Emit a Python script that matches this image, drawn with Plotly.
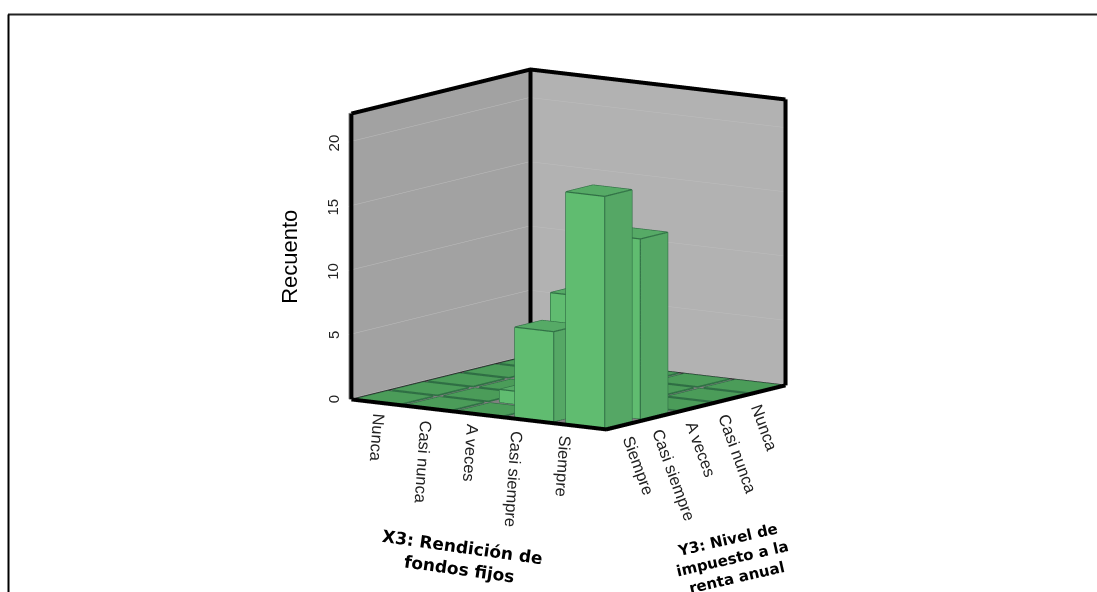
import plotly.graph_objects as go

# ---------- data ----------
x3_categories = ["Nunca", "Casi nunca", "A veces", "Casi siempre", "Siempre"]
y3_categories = ["Siempre", "Casi siempre", "A veces", "Casi nunca", "Nunca"]
# counts for each X3 category, listed in y3_categories order
counts_x3_nunca = [0, 0, 0, 0, 0]
counts_x3_casi_nunca = [0, 0, 0, 0, 0]
counts_x3_a_veces = [0, 1, 0, 0, 0]
counts_x3_casi_siempre = [7, 9, 0, 0, 0]
counts_x3_siempre = [18, 14, 0, 0, 0]
z_ticks = [0, 5, 10, 15, 20]
x3_title = "X3: Rendición de<br>fondos fijos"
y3_title = "Y3: Nivel de<br>impuesto a la<br>renta anual"
z_title = "Recuento"

counts = [counts_x3_nunca, counts_x3_casi_nunca, counts_x3_a_veces,
          counts_x3_casi_siempre, counts_x3_siempre]

# ---------- style ----------
Z_MAX = 22.25
BAR_GAP = 0.12
TILE_GAP = 0.06
TILE = 0.04
WALL_PAD = 0.06
C_FRONT, C_SIDE, C_TOP, C_TILE, C_EDGE = "#60bc70", "#55a765", "#56aa66", "#4b9c59", "#2f6e44"
nx, ny = len(x3_categories), len(y3_categories)

vx, vy, vz, fi, fj, fk, fc = [], [], [], [], [], [], []
ex, ey, ez = [], [], []


def add_bar(ix, iy, value):
    gap = BAR_GAP if value else TILE_GAP
    x0, x1 = ix + gap, ix + 1 - gap
    y0, y1 = iy + gap, iy + 1 - gap
    top = max(value, TILE)
    b = len(vx)
    for zz in (0, top):
        for xx, yy in ((x0, y0), (x1, y0), (x1, y1), (x0, y1)):
            vx.append(xx); vy.append(yy); vz.append(zz)
    tcol = C_TOP if value > 0 else C_TILE
    quads = [((4, 5, 6, 7), tcol), ((0, 1, 5, 4), C_FRONT if value else C_TILE),
             ((1, 2, 6, 5), C_SIDE if value else C_TILE), ((2, 3, 7, 6), C_SIDE), ((3, 0, 4, 7), C_SIDE)]
    for (p, q, r, s), col in quads:
        fi.extend([b + p, b + p]); fj.extend([b + q, b + r]); fk.extend([b + r, b + s]); fc.extend([col, col])
    for a, c in ((0, 1), (1, 2), (2, 3), (3, 0), (4, 5), (5, 6), (6, 7), (7, 4), (0, 4), (1, 5), (2, 6), (3, 7)):
        ex.extend([vx[b + a], vx[b + c], None]); ey.extend([vy[b + a], vy[b + c], None]); ez.extend([vz[b + a], vz[b + c], None])


for ix, row in enumerate(counts):
    for iy, v in enumerate(row):
        add_bar(ix, iy, v)

bars = go.Mesh3d(x=vx, y=vy, z=vz, i=fi, j=fj, k=fk, facecolor=fc, flatshading=True,
                 lighting=dict(ambient=1, diffuse=0, specular=0, roughness=1, fresnel=0),
                 hoverinfo="skip", showscale=False)
edges = go.Scatter3d(x=ex, y=ey, z=ez, mode="lines", line=dict(color=C_EDGE, width=2.5), hoverinfo="skip")


def polyline(points):
    xs, ys, zs = [], [], []
    for seg in points:
        for p in seg:
            xs.append(p[0]); ys.append(p[1]); zs.append(p[2])
        xs.append(None); ys.append(None); zs.append(None)
    return xs, ys, zs


L0, B0, R0, F0 = (0, 0, 0), (0, ny, 0), (nx, ny, 0), (nx, 0, 0)
L1, B1, R1 = (0, 0, Z_MAX), (0, ny, Z_MAX), (nx, ny, Z_MAX)
fx, fy, fz = polyline([[L1, B1, R1], [L0, L1], [B0, B1], [R0, R1], [L0, F0, R0]])
frame = go.Scatter3d(x=fx, y=fy, z=fz, mode="lines", line=dict(color="black", width=8), hoverinfo="skip")
tx, ty, tz = polyline([[L0, B0, R0]])
thin = go.Scatter3d(x=tx, y=ty, z=tz, mode="lines", line=dict(color="#2a2a2a", width=3), hoverinfo="skip")

tick_font = dict(family="Liberation Sans", size=16.5, color="#222222")
annotations = []
x3_dx = [1, -5, -8, -16, -18]
x3_dy = [-9, -10, -7, -8, -7]
for k, name in enumerate(x3_categories):
    annotations.append(dict(x=k + 0.5, y=0, z=0, text=name, showarrow=False, textangle=94,
                            xanchor="center", yanchor="top", xshift=x3_dx[k], yshift=x3_dy[k], font=tick_font))
y3_dx = [14, 14, 5, 6, -3]
y3_dy = [-6, -8, -9, -11, -10]
for k, name in enumerate(y3_categories):
    annotations.append(dict(x=nx, y=k + 0.5, z=0, text=name, showarrow=False, textangle=70,
                            xanchor="center", yanchor="top", xshift=y3_dx[k], yshift=y3_dy[k], font=tick_font))
for v in z_ticks:
    annotations.append(dict(x=0, y=0, z=v, text=str(v), showarrow=False, textangle=-90,
                            xshift=-18.5, font=dict(family="Liberation Sans", size=15, color="#222222")))
annotations.append(dict(x=0, y=0, z=Z_MAX / 2, text=z_title, showarrow=False, textangle=-90, xshift=-62,
                        font=dict(family="Liberation Sans", size=22, color="black")))
annotations.append(dict(x=nx / 2, y=0, z=0, text="<b>" + x3_title + "</b>", showarrow=False, textangle=8,
                        xshift=-18, yshift=-144, font=dict(family="DejaVu Sans", size=17, color="black")))
annotations.append(dict(x=nx, y=ny / 2, z=0, text="<b>" + y3_title + "</b>", showarrow=False, textangle=-13,
                        xshift=37, yshift=-151, font=dict(family="DejaVu Sans", size=15, color="black")))

hidden = dict(showgrid=False, zeroline=False, showline=False, showticklabels=False, ticks="", title="",
              showspikes=False, showbackground=True)
fig = go.Figure([bars, edges, thin, frame])
fig.update_layout(
    width=1097, height=592, margin=dict(l=0, r=0, t=0, b=0), paper_bgcolor="white", showlegend=False,
    scene=dict(
        domain=dict(x=[0.0356, 1], y=[0.159, 1]),
        xaxis=dict(hidden, range=[-WALL_PAD, nx], backgroundcolor="#a2a2a2"),
        yaxis=dict(hidden, range=[0, ny + WALL_PAD], backgroundcolor="#b2b2b2"),
        zaxis=dict(hidden, range=[0, Z_MAX], backgroundcolor="#808080", showgrid=True, gridcolor="#bdbdbd",
                   gridwidth=1, tickvals=z_ticks),
        aspectmode="manual", aspectratio=dict(x=1.26, y=1.28, z=1.165),
        camera=dict(projection=dict(type="orthographic"), up=dict(x=0, y=0, z=1),
                    center=dict(x=0, y=0, z=0), eye=dict(x=0.865, y=-1.2515, z=0.2627)),
        annotations=annotations,
    ),
    shapes=[
        dict(type="line", xref="paper", yref="paper", x0=0.0073, x1=1, y0=1 - 14.5 / 592, y1=1 - 14.5 / 592,
             line=dict(color="#222222", width=2)),
        dict(type="line", xref="paper", yref="paper", x0=8.5 / 1097, x1=8.5 / 1097, y0=0, y1=1 - 14.5 / 592,
             line=dict(color="black", width=2)),
    ],
)
fig.write_html("out.html", config=dict(displayModeBar=False),
               post_script="document.body.style.margin='0';document.documentElement.style.overflow='hidden';")
